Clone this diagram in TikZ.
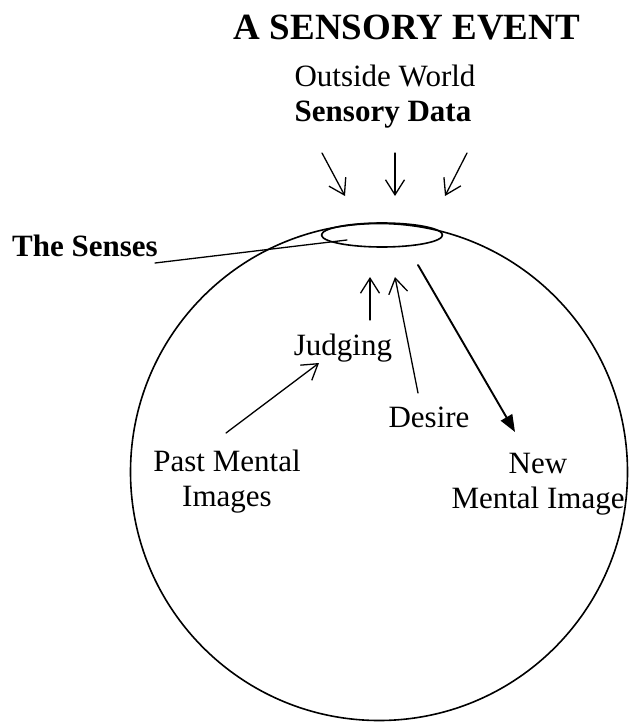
\documentclass[tikz,border=0pt]{standalone}
\usepackage{fontspec}
\setmainfont{Liberation Serif}
\usetikzlibrary{arrows.meta,shapes.geometric}

\begin{document}
\begin{tikzpicture}[x=1pt, y=-1pt, line cap=round, line join=round]

% --- styles ---
\tikzset{
    label/.style={
        anchor=base,
        inner sep=0pt,
        align=center,
        font=\fontsize{31}{35}\selectfont
    },
    boldlabel/.style={
        label,
        font=\fontsize{31}{35}\selectfont\bfseries
    },
    barb/.style={
        -{Straight Barb[length=15pt, width=19pt]},
        line width=1.3pt
    },
    bigarrow/.style={
        -{Triangle[length=17pt, width=13pt]},
        line width=1.9pt
    },
    outline/.style={
        draw=black,
        line width=1.6pt
    }
}

\useasboundingbox (0,0) rectangle (629,722);

% --- the mind and the senses ---
\node[outline, circle, minimum size=497pt, inner sep=0pt] (mind) at (379,472) {};
\node[outline, ellipse, minimum width=121pt, minimum height=24pt, inner sep=0pt] (senses) at (382,235) {};

% --- texts ---
\node[boldlabel, font=\fontsize{37}{40}\selectfont\bfseries] (title) at (407,40) {A SENSORY EVENT};
\node[label] (outside) at (385,87) {Outside World};
\node[boldlabel] (sensdata) at (383,122) {Sensory Data};
\node[boldlabel] (senseslbl) at (85,256) {The Senses};
\node[label] (judging) at (343,355) {Judging};
\node[label] (desire) at (429,427) {Desire};
\node[label] (past) at (227,506) {Past Mental\\Images};     % base = last line
\node[label] (newimg) at (538,508) {New\\Mental Image};

% --- arrow ends ---
\coordinate (in1) at (322,153);
\coordinate (in2) at (395,153);
\coordinate (in3) at (467,153);
\coordinate (out1) at (345,196);
\coordinate (out2) at (395,196);
\coordinate (out3) at (445,196);
\coordinate (lbl) at (155,263);
\coordinate (lblend) at (347,240);
\coordinate (judge) at (370,320);
\coordinate (judgeup) at (370,277);
\coordinate (want) at (418,393);
\coordinate (wantup) at (395,277);
\coordinate (newfrom) at (418,265);
\coordinate (newto) at (515,432);
\coordinate (pastfrom) at (226,433);
\coordinate (pastto) at (319,363);

% --- sensory data coming in ---
\draw[barb] (in1) -- (out1);
\draw[barb] (in2) -- (out2);
\draw[barb] (in3) -- (out3);

% --- pointer to the senses ---
\draw[line width=1.3pt] (lbl) -- (lblend);

% --- inside the mind ---
\draw[barb] (judge) -- (judgeup);
\draw[barb] (want) -- (wantup);
\draw[barb] (pastfrom) -- (pastto);
\draw[bigarrow] (newfrom) -- (newto);

\end{tikzpicture}
\end{document}
